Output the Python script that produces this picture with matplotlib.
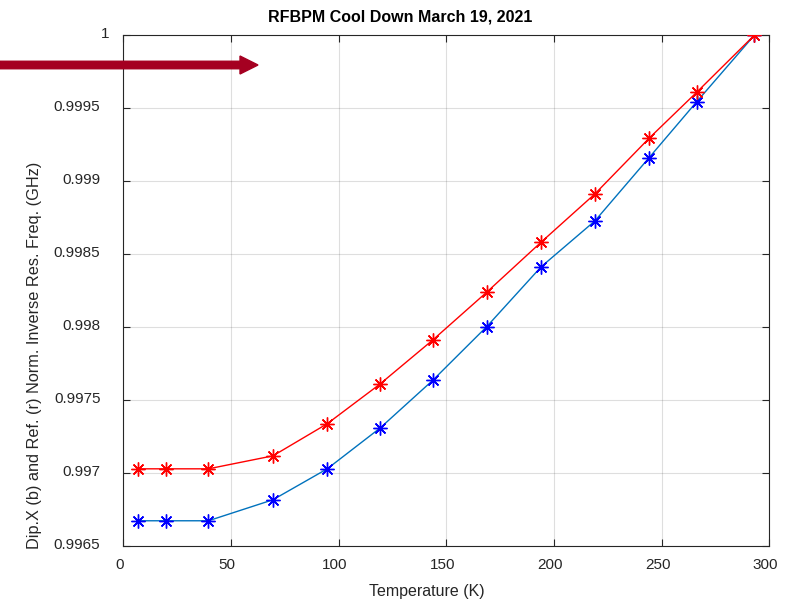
import numpy as np
import matplotlib.pyplot as plt
from matplotlib.transforms import ScaledTranslation
from matplotlib.patches import FancyArrow

# temperature points (K)
temp = [7, 20, 39.5, 69.5, 94.7, 119.2, 143.8, 168.8, 194.0, 219.0, 244.2, 266.3, 293.0]

# normalised inverse resonance frequency
ref_r = [0.997029, 0.997029, 0.997029, 0.997118, 0.997338, 0.997610, 0.997913,
         0.998240, 0.998582, 0.998913, 0.999295, 0.999610, 1.0]
dip_b = [0.996673, 0.996673, 0.996673, 0.996817, 0.997029, 0.997308, 0.997637,
         0.998004, 0.998413, 0.998728, 0.999162, 0.999545, 1.0]

xticks = [0, 50, 100, 150, 200, 250, 300]
yticks = [0.9965, 0.997, 0.9975, 0.998, 0.9985, 0.999, 0.9995, 1.0]
ytick_labels = ['0.9965', '0.997', '0.9975', '0.998', '0.9985', '0.999', '0.9995', '1']

plt.rcParams['font.family'] = ['Liberation Sans', 'DejaVu Sans']
ink = (0.15, 0.15, 0.15)

fig = plt.figure(figsize=(7.92, 6.03), dpi=100)
ax = fig.add_axes([0.1557, 0.0945, 0.8157, 0.8470])

star = (8, 2, 0)
ax.plot(temp, dip_b, '-', color=(0, 0.447, 0.741), lw=1.0, zorder=3)
ax.plot(temp, dip_b, linestyle='none', marker=star, ms=10, mew=1.0,
        color=(0, 0, 1), zorder=4)
ax.plot(temp, ref_r, '-', color=(1, 0, 0), lw=1.0, zorder=3)
ax.plot(temp, ref_r, linestyle='none', marker=star, ms=10, mew=1.0,
        color=(1, 0, 0), zorder=4)

ax.set_xlim(0, 300)
ax.set_ylim(0.9965, 1.0)
ax.set_xticks(xticks)
ax.set_yticks(yticks)
ax.set_yticklabels(ytick_labels)
ax.grid(True, color=(0.15, 0.15, 0.15), alpha=0.15, lw=0.8)
ax.set_axisbelow(True)
ax.tick_params(direction='in', length=5, width=0.8, colors=ink, labelsize=11,
               top=True, right=True, labelcolor=ink)
ax.tick_params(axis='x', pad=8.5)
ax.tick_params(axis='y', pad=16.5)
for s in ax.spines.values():
    s.set_color(ink)
    s.set_linewidth(0.8)

# small offsets of the tick labels, as in the original
px = fig.dpi_scale_trans
for lab in ax.get_xticklabels():
    lab.set_transform(lab.get_transform() + ScaledTranslation(-4 / 100, 0, px))
for lab in ax.get_yticklabels():
    dx = 9 / 100 if lab.get_text() == '1' else 0
    lab.set_transform(lab.get_transform() + ScaledTranslation(dx, 3 / 100, px))

ax.set_title('RFBPM Cool Down March 19, 2021', fontsize=11.5, fontweight='bold',
             color='black', x=0.428, pad=9.6)
ax.set_xlabel('Temperature (K)', fontsize=11.5, color=ink, va='center')
ax.xaxis.set_label_coords(0.47, -0.09)
ax.set_ylabel('Dip.X (b) and Ref. (r) Norm. Inverse Res. Freq. (GHz)',
              fontsize=11.7, color=ink, va='center')
ax.yaxis.set_label_coords(-0.138, 0.374)

# annotation arrow on the left
fig.add_artist(FancyArrow(0, 538, 240, 0, width=7.5, head_width=18,
                          head_length=18, length_includes_head=False,
                          color='#A50021', transform=None))

fig.savefig('out.png', dpi=100)
